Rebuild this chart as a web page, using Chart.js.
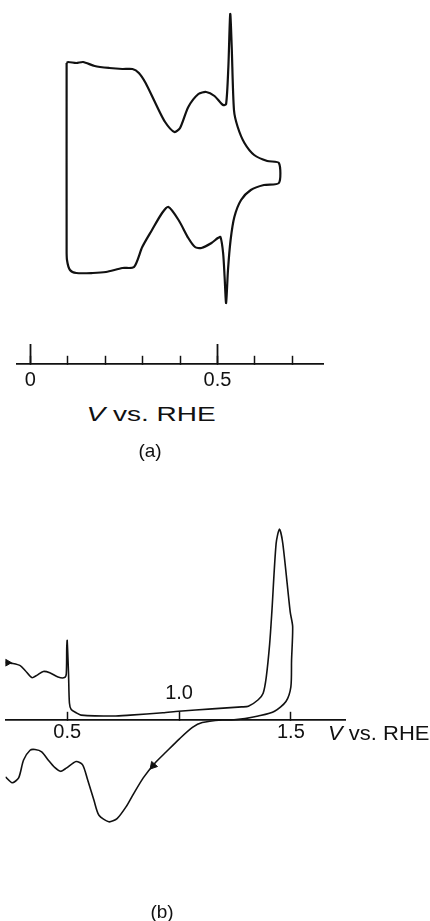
<!DOCTYPE html>
<html><head><meta charset="utf-8">
<script src="https://cdn.jsdelivr.net/npm/chart.js@4/dist/chart.umd.min.js"></script>
<style>
html,body{margin:0;padding:0;background:#fff;width:430px;height:921px;overflow:hidden;position:relative;font-family:"Liberation Sans",Arial,sans-serif;}
#wa{position:absolute;left:0;top:0;width:430px;height:400px;}
#wb{position:absolute;left:0;top:460px;width:430px;height:461px;}
.lbl{position:absolute;font-size:20px;color:#111;white-space:nowrap;line-height:1;}
.c{transform:translate(-50%,-50%);}
.ca{transform:translate(-50%,-50%) scaleX(1.4);}
.lb{transform-origin:0 50%;transform:translate(0,-50%) scaleX(1.1);}
</style></head><body>
<div id="wa"><canvas id="ca"></canvas></div>
<div id="wb"><canvas id="cb"></canvas></div>
<div class="lbl ca" style="left:151px;top:414px;"><i>V</i> vs. RHE</div>
<div class="lbl c" style="left:150px;top:450px;font-size:19px;">(a)</div>
<div class="lbl lb" style="left:328px;top:733px;"><i>V</i> vs. RHE</div>
<div class="lbl c" style="left:162px;top:911px;font-size:19px;">(b)</div>
<script>
// Panel (a): potential (V vs. RHE) and current (arbitrary units)
const voltsA = [0.097,0.101,0.123,0.141,0.172,0.211,0.246,0.273,0.290,0.308,0.334,0.360,0.385,0.400,0.422,0.449,0.470,0.492,0.515,0.523,0.529,0.534,0.538,0.544,0.554,0.572,0.598,0.633,0.664,0.664,0.624,0.589,0.563,0.545,0.535,0.528,0.523,0.519,0.515,0.508,0.501,0.484,0.457,0.440,0.422,0.396,0.369,0.352,0.325,0.299,0.277,0.246,0.202,0.167,0.123,0.106,0.098,0.097,0.097];
const currentA = [10.9,11.0,10.9,11.0,10.6,10.4,10.3,10.3,9.9,8.9,6.9,5.0,4.0,4.4,6.5,7.8,8.0,7.6,6.7,6.8,10.5,15.8,12.5,6.2,4.5,2.9,1.7,1.1,0.9,-1.1,-1.3,-1.8,-2.8,-4.5,-6.8,-9.8,-13.1,-10.5,-8.1,-6.5,-6.6,-7.1,-7.6,-7.5,-6.6,-4.8,-3.5,-4.1,-5.8,-7.5,-9.5,-9.6,-10.0,-10.1,-10.1,-9.8,-8.8,-7.5,10.9];
const ticksA = [0,0.1,0.2,0.3,0.4,0.5,0.6,0.7];
const majorTicksA = [0,0.5];
const majorLabelsA = ['0','0.5'];

// Panel (b)
const voltsB = [0.224,0.254,0.290,0.312,0.342,0.364,0.393,0.422,0.459,0.488,0.496,0.498,0.500,0.506,0.510,0.518,0.540,0.562,0.708,0.782,0.928,0.999,1.148,1.280,1.310,1.354,1.376,1.390,1.405,1.415,1.434,1.449,1.464,1.497,1.508,1.503,1.500,1.478,1.427,1.354,1.295,1.236,1.192,1.104,1.060,1.002,0.943,0.892,0.840,0.796,0.767,0.723,0.686,0.642,0.620,0.591,0.569,0.540,0.496,0.471,0.444,0.415,0.386,0.356,0.334,0.305,0.283,0.254,0.224];
const currentB = [5.88,5.78,5.55,5.05,4.32,4.55,4.95,4.82,4.38,4.32,4.72,7.38,8.12,4.72,1.72,1.05,0.72,0.48,0.38,0.48,0.72,0.88,1.12,1.32,1.38,2.05,2.72,4.38,7.72,11.05,18.05,19.55,18.05,11.05,9.55,6.05,3.38,1.88,0.88,0.38,0.12,-0.02,-0.02,-0.28,-0.78,-1.95,-3.28,-4.45,-5.95,-7.62,-8.78,-10.12,-10.45,-9.78,-8.28,-6.12,-4.62,-4.28,-4.95,-5.28,-4.88,-4.12,-3.28,-3.05,-3.12,-4.12,-5.95,-6.45,-5.85];
const ticksB = [0.5,1.0,1.5];
const tickLabelsB = ['0.5','','1.5'];
const upperTicksB = [1.0];
const upperLabelsB = ['1.0'];
// sweep-direction arrowheads (b)
const arrowV = [0.884,0.233];
const arrowI = [-4.7,5.85];
const arrowRot = [221,90];

const INK = '#111';
const FONT = {family:'"Liberation Sans", Arial, sans-serif', size:20};
const zeroFit = s => { s.height = 0; };
const setTicks = arr => s => { s.ticks = arr.map(v => ({value:v})); };
const baseOpts = {
  responsive:true, maintainAspectRatio:false, animation:false, events:[],
  plugins:{legend:{display:false}, tooltip:{enabled:false}}
};

new Chart(document.getElementById('ca'), {
  type:'scatter',
  data:{datasets:[{
    data: voltsA.map((v,k)=>({x:v, y:currentA[k]})),
    showLine:true, borderColor:INK, borderWidth:2.2, pointRadius:0, tension:0.25, fill:false,
    xAxisID:'xA', yAxisID:'yA'
  }]},
  options:Object.assign({}, baseOpts, {
    layout:{padding:{left:13, right:107, top:0, bottom:0}},
    scales:{
      yA:{axis:'y', type:'linear', display:false, min:-22.8, max:17.2},
      xA:{axis:'x', type:'linear', min:-0.0361, max:0.7818, position:{yA:-19.2},
        afterBuildTicks:setTicks(ticksA), afterFit:zeroFit,
        grid:{drawOnChartArea:false, drawTicks:true, tickLength:-9, tickWidth:1.5, tickColor:INK},
        border:{display:true, color:INK, width:1.8},
        ticks:{autoSkip:false, maxRotation:0, callback:()=>'', font:FONT, color:INK}
      },
      xA2:{axis:'x', type:'linear', min:-0.0361, max:0.7818, position:{yA:-19.2},
        afterBuildTicks:setTicks(majorTicksA), afterFit:zeroFit,
        grid:{drawOnChartArea:false, drawTicks:true, tickLength:-20, tickWidth:1.8, tickColor:INK},
        border:{display:false},
        ticks:{autoSkip:false, maxRotation:0, padding:24, font:FONT, color:INK,
          callback:(v,i)=>majorLabelsA[i]}
      }
    }
  })
});

new Chart(document.getElementById('cb'), {
  type:'scatter',
  data:{datasets:[{
    data: voltsB.map((v,k)=>({x:v, y:currentB[k]})),
    showLine:true, borderColor:INK, borderWidth:1.6, pointRadius:0, tension:0.25, fill:false,
    xAxisID:'xB', yAxisID:'yB'
  },{
    data: arrowV.map((v,k)=>({x:v, y:arrowI[k]})),
    showLine:false, pointStyle:'triangle', pointRadius:[4.5,4], rotation:arrowRot,
    backgroundColor:INK, borderColor:INK, borderWidth:1,
    xAxisID:'xB', yAxisID:'yB'
  }]},
  options:Object.assign({}, baseOpts, {
    layout:{padding:{left:0, right:85, top:0, bottom:0}},
    scales:{
      yB:{axis:'y', type:'linear', display:false, min:-20.05, max:26.05},
      xB:{axis:'x', type:'linear', min:0.2242, max:1.742, position:{yB:0},
        afterBuildTicks:setTicks(ticksB), afterFit:zeroFit,
        grid:{drawOnChartArea:false, drawTicks:true, tickLength:-9, tickWidth:1.5, tickColor:INK},
        border:{display:true, color:INK, width:1.8},
        ticks:{autoSkip:false, maxRotation:0, padding:10, font:FONT, color:INK,
          callback:(v,i)=>tickLabelsB[i]}
      },
      xB2:{axis:'x', type:'linear', min:0.2242, max:1.742, position:{yB:0},
        afterBuildTicks:setTicks(upperTicksB), afterFit:zeroFit,
        grid:{drawOnChartArea:false, drawTicks:false},
        border:{display:false},
        ticks:{autoSkip:false, maxRotation:0, padding:-38, font:FONT, color:INK,
          callback:(v,i)=>upperLabelsB[i]}
      }
    }
  })
});
</script>
</body></html>
